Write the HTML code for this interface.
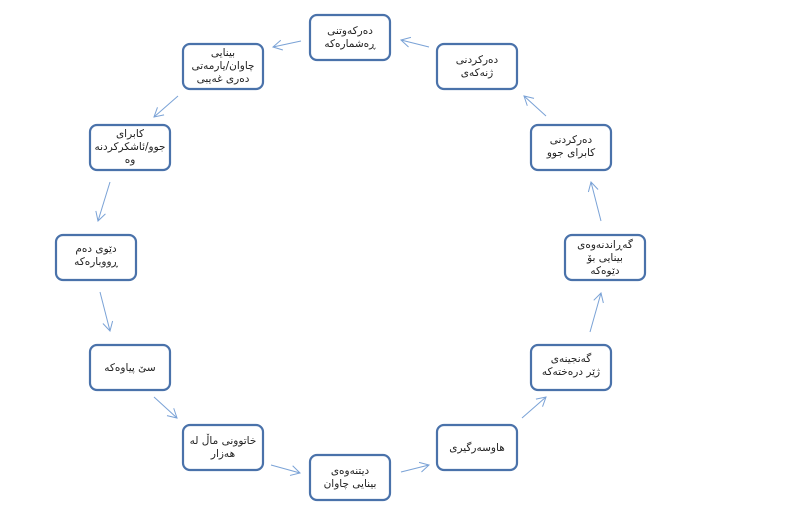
<!DOCTYPE html>
<html><head><meta charset="utf-8"><style>
html,body{margin:0;padding:0;background:#fff;width:787px;height:506px;overflow:hidden}
text{font-family:"DejaVu Sans","Liberation Sans",sans-serif;font-size:10.5px;fill:#222}
</style></head><body>
<svg width="787" height="506" viewBox="0 0 787 506" xmlns="http://www.w3.org/2000/svg">
<defs><marker id="a" markerWidth="12" markerHeight="12" refX="10" refY="6" orient="auto" markerUnits="userSpaceOnUse"><path d="M1,1 L10,6 L1,11" fill="none" stroke="#7aa2d6" stroke-width="1"/></marker></defs>
<g fill="#fff" stroke="#4a72aa" stroke-width="2.2">
<rect x="310" y="15" width="80" height="45" rx="7"/>
<rect x="183" y="44" width="80" height="45" rx="7"/>
<rect x="90" y="125" width="80" height="45" rx="7"/>
<rect x="56" y="235" width="80" height="45" rx="7"/>
<rect x="90" y="345" width="80" height="45" rx="7"/>
<rect x="183" y="425" width="80" height="45" rx="7"/>
<rect x="310" y="455" width="80" height="45" rx="7"/>
<rect x="437" y="425" width="80" height="45" rx="7"/>
<rect x="531" y="345" width="80" height="45" rx="7"/>
<rect x="565" y="235" width="80" height="45" rx="7"/>
<rect x="531" y="125" width="80" height="45" rx="7"/>
<rect x="437" y="44" width="80" height="45" rx="7"/>
</g>
<g stroke="#7aa2d6" stroke-width="1" marker-end="url(#a)">
<line x1="429" y1="47" x2="401" y2="40"/>
<line x1="301" y1="41" x2="273" y2="47"/>
<line x1="178" y1="96" x2="154" y2="117"/>
<line x1="110" y1="182" x2="98" y2="221"/>
<line x1="100" y1="292" x2="110" y2="331"/>
<line x1="154" y1="397" x2="177" y2="418"/>
<line x1="271" y1="465" x2="300" y2="473"/>
<line x1="401" y1="472" x2="429" y2="465"/>
<line x1="522" y1="418" x2="546" y2="397"/>
<line x1="590" y1="332" x2="601" y2="293"/>
<line x1="601" y1="221" x2="591" y2="182"/>
<line x1="546" y1="116" x2="524" y2="96"/>
</g>
<g text-anchor="middle" direction="rtl">
<text x="350" y="34">دەرکەوتنی</text><text x="350" y="47">ڕەشمارەکە</text>
<text x="223" y="56">بینایی</text><text x="223" y="69">چاوان/یارمەتی</text><text x="223" y="82">دەری غەیبی</text>
<text x="130" y="137">کابرای</text><text x="130" y="150">جوو/ئاشکرکردنە</text><text x="130" y="163">وە</text>
<text x="96" y="252">دێوی دەم</text><text x="96" y="265">ڕووبارەکە</text>
<text x="130" y="371">سێ پیاوەکە</text>
<text x="223" y="444">خاتوونی ماڵ لە</text><text x="223" y="457">هەزار</text>
<text x="350" y="474">دیتنەوەی</text><text x="350" y="487">بینایی چاوان</text>
<text x="477" y="451">هاوسەرگیری</text>
<text x="571" y="362">گەنجینەی</text><text x="571" y="375">ژێر درەختەکە</text>
<text x="605" y="248">گەڕاندنەوەی</text><text x="605" y="261">بینایی بۆ</text><text x="605" y="274">دێوەکە</text>
<text x="571" y="143">دەرکردنی</text><text x="571" y="156">کابرای جوو</text>
<text x="477" y="63">دەرکردنی</text><text x="477" y="76">ژنەکەی</text>
</g>
</svg>
</body></html>
